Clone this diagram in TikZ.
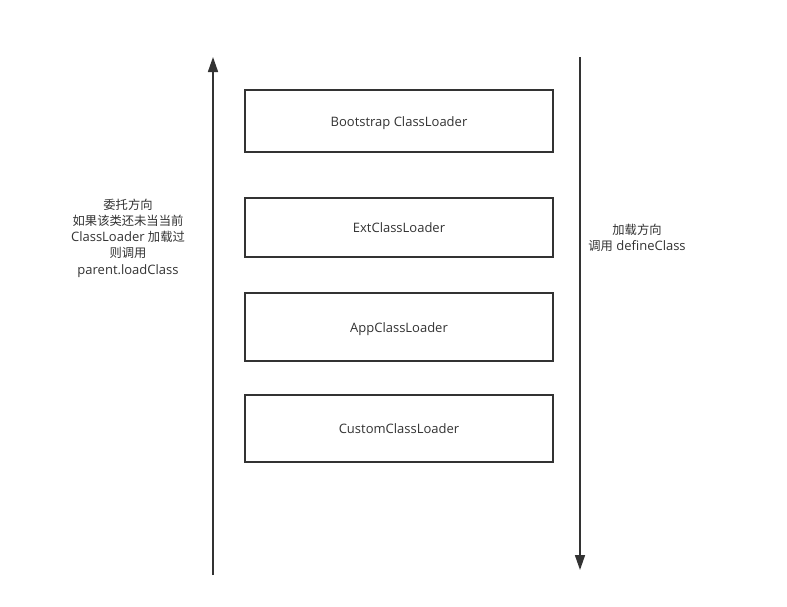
\documentclass[tikz,border=0pt]{standalone}
\usepackage{fontspec}
\setmainfont{Open Sans}
\newfontfamily\cjk{Noto Sans CJK SC}
\usetikzlibrary{arrows.meta}
\definecolor{ink}{HTML}{333333}
\newcommand{\zh}[1]{{\cjk\fontsize{12.3}{16.3}\selectfont #1}}
\newcommand{\boxtext}[1]{\raisebox{-5pt}[0pt][0pt]{#1}}
\tikzset{
  loaderbox/.style={draw=ink, line width=1.6pt, fill=white, text=ink, font=\fontsize{13}{14}\selectfont},
  flowarrow/.style={draw=ink, line width=1.6pt, -{Triangle[length=15pt,width=10pt]}},
  note/.style={text=ink, align=center, font=\fontsize{13}{16.3}\selectfont}
}
\begin{document}
\begin{tikzpicture}[x=1pt,y=-1pt]
\useasboundingbox (0,0) rectangle (787,606);
\fill[white] (0,0) rectangle (787,606);
\node[loaderbox, minimum width=308pt, minimum height=62pt] (boot) at (399,121) {\boxtext{Bootstrap ClassLoader}};
\node[loaderbox, minimum width=308pt, minimum height=59pt] (ext) at (399,227.5) {\boxtext{ExtClassLoader}};
\node[loaderbox, minimum width=308pt, minimum height=68pt] (app) at (399,327) {\boxtext{AppClassLoader}};
\node[loaderbox, minimum width=308pt, minimum height=67pt] (cust) at (399,428.5) {\boxtext{CustomClassLoader}};
\coordinate (lb) at (213,575);
\coordinate (lt) at (213,57);
\coordinate (rt) at (580,57);
\coordinate (rb) at (580,570);
\draw[flowarrow] (lb) -- (lt);
\draw[flowarrow] (rt) -- (rb);
\node[note] (delegate) at (128,238) {\zh{委托方向}\\\zh{如果该类还未当当前}\\ClassLoader \zh{加载过}\\\zh{则调用}\\parent.loadClass};
\node[note] (load) at (637,237.5) {\zh{加载方向}\\\zh{调用} defineClass};
\end{tikzpicture}
\end{document}
